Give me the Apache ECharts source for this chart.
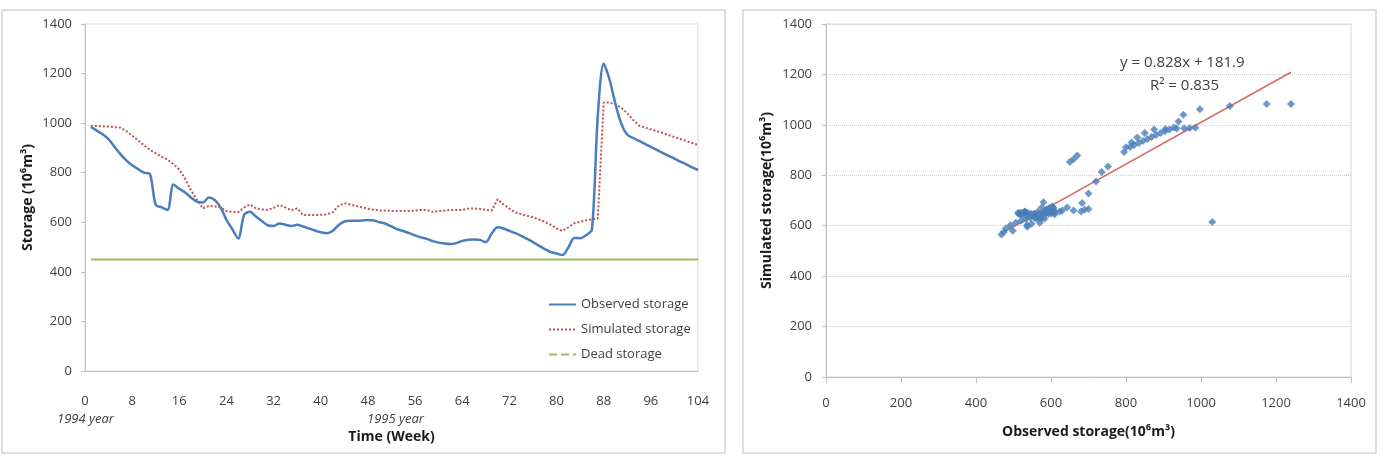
<!DOCTYPE html>
<html>
<head>
<meta charset="utf-8">
<title>Reservoir storage</title>
<script src="https://cdn.jsdelivr.net/npm/echarts@6/dist/echarts.min.js"></script>
<style>
  html, body { margin: 0; padding: 0; background: #fff; }
  #chart { width: 1389px; height: 458px; }
</style>
</head>
<body>
<div id="chart"></div>
<script>
// weekly storage (10^6 m3), week 1 .. 104
const observed = [
  985, 970, 955, 935, 905, 875, 850, 830, 815, 800,
  795, 670, 660, 650, 752, 735, 720, 700, 683, 680,
  700, 690, 660, 610, 572, 535, 630, 643, 623, 605,
  588, 585, 595, 590, 585, 590, 583, 575, 567, 560,
  556, 565, 588, 603, 606, 606, 607, 609, 607, 600,
  594, 583, 572, 565, 556, 547, 539, 533, 524, 518,
  514, 512, 516, 525, 530, 531, 529, 520, 555, 580,
  575, 565, 556, 545, 533, 520, 506, 492, 480, 474,
  468, 498, 537, 536, 548, 570, 1030, 1240, 1175, 1077,
  997, 953, 940, 928, 916, 904, 892, 880, 868, 857,
  845, 834, 822, 811
]
const simulated = [
  989, 988, 987, 986, 984, 982, 968, 950, 930, 911,
  892, 878, 864, 853, 835, 813, 775, 728, 690, 656,
  666, 664, 660, 645, 642, 641, 660, 672, 656, 652,
  650, 658, 670, 660, 648, 656, 629, 629, 629, 630,
  632, 640, 665, 677, 672, 666, 660, 655, 650, 648,
  647, 646, 646, 646, 646, 647, 650, 650, 642, 645,
  647, 650, 650, 650, 655, 656, 654, 650, 647, 693,
  672, 655, 640, 633, 626, 620, 612, 602, 590, 575,
  565, 580, 596, 602, 608, 612, 615, 1083, 1083, 1075,
  1062, 1040, 1013, 990, 982, 975, 968, 960, 952, 944,
  936, 928, 920, 912
]
const deadStorage = 450
const seriesNames = ['Observed storage', 'Simulated storage', 'Dead storage']
// linear fit shown on the scatter
const trend = { slope: 0.828, intercept: 181.9, r2: 0.835 }

const font = 'Open Sans, Liberation Sans, sans-serif'
const textColor = '#404040'
const axisGray = '#bfbfbf'

const obsPairs = observed.map((v, i) => [i + 1, v])
const simPairs = simulated.map((v, i) => [i + 1, v])
const deadPairs = [[1, deadStorage], [observed.length, deadStorage]]
const scatterPairs = observed.map((v, i) => [v, simulated[i]])
const xMin = Math.min(...observed)
const xMax = Math.max(...observed)
const trendPairs = [xMin, xMax].map(x => [x, trend.slope * x + trend.intercept])

const chart = echarts.init(document.getElementById('chart'))

// plain numbers, no thousands separator
const plain = v => String(v)

const axisCommon = {
  axisLine: { show: true, lineStyle: { color: axisGray } },
  axisTick: { show: true, length: 4, lineStyle: { color: axisGray } },
  axisLabel: { color: textColor, fontFamily: font, fontSize: 13, formatter: plain },
  nameTextStyle: { color: '#1a1a1a', fontFamily: font, fontSize: 14, fontWeight: 'bold' },
  nameLocation: 'middle'
}

const option = {
  animation: false,
  textStyle: { fontFamily: font },
  graphic: [
    // panel frames
    { type: 'rect', shape: { x: 2, y: 10, width: 723, height: 443 }, style: { fill: 'none', stroke: '#d4d4d4', lineWidth: 1.5 }, z: -1 },
    { type: 'rect', shape: { x: 743, y: 10, width: 633, height: 443 }, style: { fill: 'none', stroke: '#d4d4d4', lineWidth: 1.5 }, z: -1 },
    // year notes under the time axis
    { type: 'text', left: 57, top: 413, style: { text: '1994 year', font: 'italic 13px ' + font, fill: textColor } },
    { type: 'text', left: 367, top: 413, style: { text: '1995 year', font: 'italic 13px ' + font, fill: textColor } },
    // trend equation
    { type: 'text', left: 1120, top: 55, style: { text: 'y = ' + trend.slope + 'x + ' + trend.intercept, font: '15px ' + font, fill: textColor } },
    { type: 'text', left: 1150, top: 78, style: { text: 'R² = ' + trend.r2, font: '15px ' + font, fill: textColor } }
  ],
  legend: {
    data: [
      { name: seriesNames[0] },
      { name: seriesNames[1] },
      { name: seriesNames[2], lineStyle: { type: 'dashed' } }
    ],
    orient: 'vertical',
    left: 548,
    top: 298,
    padding: 0,
    itemWidth: 27,
    itemHeight: 10,
    itemGap: 12,
    itemStyle: { opacity: 0 },
    textStyle: { color: textColor, fontFamily: font, fontSize: 13 }
  },
  grid: [
    { left: 85, top: 24, width: 613, height: 347, show: true, borderColor: '#d9d9d9', borderWidth: 1 },
    { left: 826, top: 24, width: 525, height: 353, show: true, borderColor: '#d9d9d9', borderWidth: 1 }
  ],
  xAxis: [
    Object.assign({}, axisCommon, {
      gridIndex: 0, type: 'value', min: 0, max: 104, interval: 8,
      name: 'Time (Week)', nameGap: 59,
      axisTick: { show: false },
      axisLabel: Object.assign({}, axisCommon.axisLabel, { margin: 24 }),
      splitLine: { show: false }
    }),
    Object.assign({}, axisCommon, {
      gridIndex: 1, type: 'value', min: 0, max: 1400, interval: 200,
      name: 'Observed storage(10⁶m³)', nameGap: 48,
      axisTick: { show: true, length: 6, lineStyle: { color: axisGray } },
      axisLabel: Object.assign({}, axisCommon.axisLabel, { margin: 20 }),
      splitLine: { show: false }
    })
  ],
  yAxis: [
    Object.assign({}, axisCommon, {
      gridIndex: 0, type: 'value', min: 0, max: 1400, interval: 200,
      name: 'Storage (10⁶m³)', nameGap: 50,
      axisLabel: Object.assign({}, axisCommon.axisLabel, { margin: 13 }),
      splitLine: { show: false }
    }),
    Object.assign({}, axisCommon, {
      gridIndex: 1, type: 'value', min: 0, max: 1400, interval: 200,
      name: 'Simulated storage(10⁶m³)', nameGap: 52,
      axisLabel: Object.assign({}, axisCommon.axisLabel, { margin: 14 }),
      splitLine: { show: true, lineStyle: { color: '#d0d0d0', type: 'dotted' } }
    })
  ],
  series: [
    {
      name: seriesNames[0], type: 'line', xAxisIndex: 0, yAxisIndex: 0,
      data: obsPairs, smooth: 0.3, symbol: 'none',
      lineStyle: { color: '#4a7ebb', width: 2.5 }, itemStyle: { color: '#4a7ebb' }, z: 3
    },
    {
      name: seriesNames[1], type: 'line', xAxisIndex: 0, yAxisIndex: 0,
      data: simPairs, symbol: 'none',
      lineStyle: { color: '#c0504d', width: 2, type: 'dotted' }, itemStyle: { color: '#c0504d' }, z: 2
    },
    {
      name: seriesNames[2], type: 'line', xAxisIndex: 0, yAxisIndex: 0,
      data: deadPairs, symbol: 'none',
      lineStyle: { color: '#9bbb59', width: 2 }, itemStyle: { color: '#9bbb59' }
    },
    {
      name: 'Observed vs simulated', type: 'scatter', xAxisIndex: 1, yAxisIndex: 1,
      data: scatterPairs, symbol: 'diamond', symbolSize: 8,
      itemStyle: { color: '#4a7ebb' }, z: 3
    },
    {
      name: 'Linear trend', type: 'line', xAxisIndex: 1, yAxisIndex: 1,
      data: trendPairs, symbol: 'none',
      lineStyle: { color: '#d9675f', width: 1.5 }, z: 2
    }
  ]
}

chart.setOption(option)
</script>
</body>
</html>
